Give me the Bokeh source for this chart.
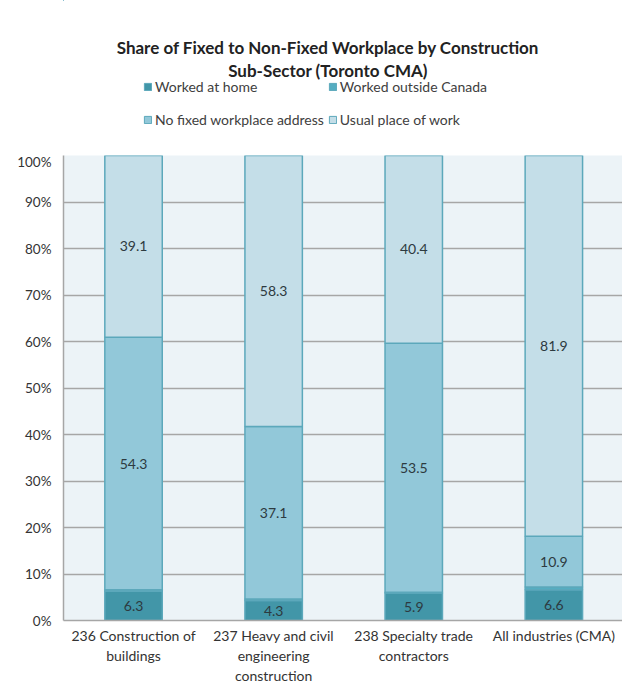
from bokeh.plotting import figure
from bokeh.layouts import column
from bokeh.models import Range1d, Legend, LegendItem, FixedTicker, ColumnDataSource
from bokeh.core.properties import value
from bokeh.embed import file_html
from bokeh.resources import INLINE

categories = ["236 Construction of\nbuildings", "237 Heavy and civil\nengineering\nconstruction",
              "238 Specialty trade\ncontractors", "All industries (CMA)"]
series_names = ["Worked at home", "Worked outside Canada", "No fixed workplace address", "Usual place of work"]
worked_home = [6.3, 4.3, 5.9, 6.6]
outside_canada = [0.3, 0.3, 0.2, 0.6]
no_fixed = [54.3, 37.1, 53.5, 10.9]
usual_place = [39.1, 58.3, 40.4, 81.9]
y_ticks = [0, 10, 20, 30, 40, 50, 60, 70, 80, 90, 100]
title_lines = ["Share of Fixed to Non-Fixed Workplace by Construction", "Sub-Sector (Toronto CMA)"]

colors = ["#4296a8", "#55adc1", "#92c8d9", "#c4dee8"]
OUTLINE = "#5ca8bb"
FONT = "Lato"
HEAD_H = 153
LEFT = 63

# ---------- header: title + legend (frame is aligned with the chart's frame) ----------
head = figure(width=622, height=HEAD_H, x_range=Range1d(LEFT, 622), y_range=Range1d(HEAD_H, 0),
              output_backend="svg", toolbar_location=None, min_border=0, min_border_left=LEFT,
              x_axis_location=None, y_axis_location=None)
head.grid.grid_line_color = None
head.outline_line_color = None
head.text(x=[327.5, 327.5], y=[47, 70], text=title_lines, text_align="center",
          text_baseline="middle", text_font=value(FONT), text_font_size="17px",
          text_font_style="bold", text_color="#222222")
# legend-only renderers, placed far outside the header's ranges
dummies = [head.vbar(x=[-5000], top=[-5000], bottom=[-5001], width=1, fill_color=c,
                     line_color=OUTLINE, line_width=1)
           for c in colors]
legend = Legend(items=[LegendItem(label=n, renderers=[r]) for n, r in zip(series_names, dummies)],
                ncols=2, orientation="horizontal")
legend.label_text_font = FONT
legend.label_text_font_size = "14px"
legend.label_text_color = "#404040"
legend.glyph_width = 9
legend.glyph_height = 9
legend.label_standoff = 3
legend.label_height = 29
legend.spacing = 4
legend.padding = 0
legend.margin = 0
legend.background_fill_alpha = 0
legend.border_line_color = None
legend.location = (143 - LEFT, 19)
head.add_layout(legend, "center")

# ---------- main chart ----------
xs = list(range(len(categories)))
src = ColumnDataSource(dict(x=xs, home=worked_home, outside=outside_canada,
                            nofixed=no_fixed, usual=usual_place))

p = figure(width=622, height=690 - HEAD_H, x_range=Range1d(-0.5, 3.49), y_range=Range1d(0, 100),
           output_backend="svg", toolbar_location=None,
           min_border_left=LEFT, min_border_right=0, min_border_top=2, min_border_bottom=70)
p.background_fill_color = "#ecf3f7"
p.border_fill_color = "white"
p.outline_line_color = None

rs = p.vbar_stack(["home", "outside", "nofixed", "usual"], x="x", width=0.41, source=src,
                  fill_color=colors, line_color=OUTLINE, line_width=1.5)

lab_x, lab_y, lab_t = [], [], []
for i in range(len(categories)):
    base = 0.0
    segs = [worked_home[i], outside_canada[i], no_fixed[i], usual_place[i]]
    for k, v in enumerate(segs):
        if k != 1:
            lab_x.append(i)
            lab_y.append(base + v / 2)
            lab_t.append(f"{v:.1f}")
        base += v
p.text(x=lab_x, y=lab_y, text=lab_t, text_align="center", text_baseline="middle",
       text_font=value(FONT), text_font_size="14px", text_color="#2d3a40")

p.yaxis.ticker = FixedTicker(ticks=y_ticks)
p.yaxis.major_label_overrides = {t: f"{t}%" for t in y_ticks}
p.xaxis.ticker = FixedTicker(ticks=xs)
p.xaxis.major_label_overrides = {i: c for i, c in enumerate(categories)}
for ax in (p.xaxis, p.yaxis):
    ax.axis_line_color = "#a6a6a6"
    ax.axis_line_width = 1.5
    ax.major_tick_line_color = None
    ax.minor_tick_line_color = None
    ax.major_label_text_font = FONT
    ax.major_label_text_color = "#333333"
p.xaxis.major_label_text_font_size = "14px"
p.xaxis.major_label_text_line_height = 1.2
p.yaxis.major_label_text_font_size = "13.5px"
p.xaxis.major_label_standoff = 0
p.yaxis.major_label_standoff = 6
p.xgrid.grid_line_color = None
p.ygrid.ticker = FixedTicker(ticks=y_ticks)
p.ygrid.grid_line_color = "#a6a6a6"
p.ygrid.grid_line_width = 1.5

open("out.html", "w").write(file_html(column(head, p), INLINE))
